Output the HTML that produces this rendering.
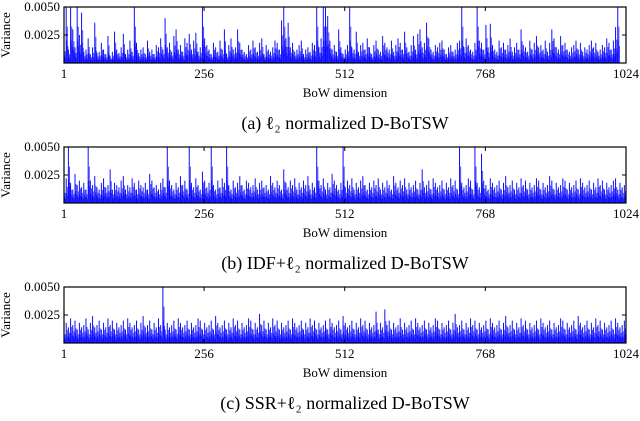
<!DOCTYPE html>
<html><head><meta charset="utf-8"><style>
body{margin:0;background:#fff;width:640px;height:416px;overflow:hidden}
svg text{font-family:"Liberation Serif",serif;fill:#000}
</style></head><body>
<svg id="fig" width="640" height="416" viewBox="0 0 640 416"></svg>
<script>
const xTicks=[1,256,512,768,1024];
const yTicks=[0.0025,0.0050];
const yTickLabels=["0.0025","0.0050"];
const captions=["(a) \u2113\u2082 normalized D-BoTSW","(b) IDF+\u2113\u2082 normalized D-BoTSW","(c) SSR+\u2113\u2082 normalized D-BoTSW"];
// values in units of 1e-4, one per 4 BoW dimensions
const seriesA=[16,50,12,50,30,14,50,25,45,10,12,22,8,14,36,9,10,18,12,8,24,6,10,28,12,9,14,26,8,12,20,10,50,18,9,12,14,8,20,10,12,8,16,14,22,12,40,14,18,10,24,30,12,16,10,22,18,26,12,20,27,10,14,50,22,16,12,8,18,14,10,20,12,30,8,16,22,12,14,30,18,12,10,8,16,12,20,14,10,18,22,8,16,12,10,14,20,18,12,38,50,22,36,14,18,10,12,16,20,8,12,14,10,18,16,50,14,22,50,50,42,20,12,16,10,30,14,8,12,16,50,14,12,28,10,16,18,12,22,14,8,16,20,12,10,24,18,14,12,20,10,16,22,18,12,28,14,10,16,24,12,26,30,14,18,36,22,12,10,16,14,18,20,12,8,14,16,10,12,18,20,50,14,22,16,12,10,18,50,20,18,12,34,14,35,16,12,10,20,14,18,12,16,22,10,14,18,12,30,16,14,10,20,12,18,24,14,16,12,20,10,18,30,22,14,12,24,16,18,12,10,14,16,20,12,18,10,14,12,16,20,14,18,10,12,16,14,22,18,12,20,32,50];
const seriesB=[14,22,50,18,12,26,16,20,14,18,12,50,20,16,24,14,12,18,22,14,16,30,12,18,16,14,20,24,12,16,14,22,18,12,20,16,14,18,12,26,20,14,16,12,18,22,14,50,20,16,12,18,14,24,16,20,12,50,18,14,22,16,12,28,20,14,18,50,16,12,20,14,22,18,50,16,12,20,14,18,24,16,12,20,18,14,16,22,12,18,20,14,16,12,24,18,14,20,16,12,30,18,14,20,16,22,12,18,14,20,16,24,12,18,14,50,20,16,22,12,18,14,26,20,16,12,18,50,14,20,16,22,12,18,14,20,24,16,12,18,14,20,16,22,12,18,14,20,16,12,24,18,14,20,16,22,12,18,14,16,20,12,18,30,14,16,20,12,22,18,14,16,20,12,18,14,22,16,20,12,50,18,14,16,22,20,12,50,18,14,44,20,16,12,22,18,14,16,20,12,18,24,14,16,20,12,18,14,22,16,20,12,18,14,16,22,20,12,18,14,16,24,20,12,18,14,16,22,20,12,18,14,16,20,12,22,18,14,16,20,12,18,14,22,16,20,12,18,14,16,20,22,12,18,14,16,20,12,30];
const seriesC=[12,18,14,22,16,20,12,18,14,16,22,12,18,24,14,16,20,12,18,14,22,16,20,12,18,14,16,20,12,22,18,14,16,20,12,18,24,14,16,20,12,18,14,22,16,50,12,18,14,16,20,12,22,18,14,16,20,12,18,14,16,22,20,12,18,14,16,20,12,24,18,14,16,20,12,18,14,22,16,20,12,18,14,16,22,20,12,18,14,26,16,20,12,18,14,22,16,20,12,18,14,16,20,12,22,18,14,16,20,12,18,14,22,16,20,12,18,14,16,20,12,22,18,14,16,20,12,24,18,14,16,20,12,18,14,22,16,20,12,18,14,16,28,12,18,14,30,16,20,12,18,14,16,22,12,18,14,16,20,12,22,18,14,16,20,12,18,14,16,22,20,12,18,14,16,20,12,18,26,14,16,20,12,18,14,22,16,20,12,18,14,16,20,12,22,18,14,16,20,12,18,24,14,16,20,12,18,14,22,16,20,12,18,14,16,20,12,22,18,14,16,20,12,18,14,16,22,20,12,18,14,16,20,12,24,18,14,16,20,12,18,14,22,16,20,12,18,14,16,20,12,22,18,14,16,20,12,18,14,16,22,20,12,30];
const series=[seriesA,seriesB,seriesC];
const NS="http://www.w3.org/2000/svg";
const svg=document.getElementById('fig');
const L=64,R=626,H=56,tops=[7,147,287];
function mk(t,a,p){const e=document.createElementNS(NS,t);for(const k in a)e.setAttribute(k,a[k]);(p||svg).appendChild(e);return e;}
function xs(d){return L+(d-1)/(1023)*(R-L);}
series.forEach((vals,pi)=>{
  const T=tops[pi],B=T+H;
  const ys=v=>B-Math.min(v,0.005)/0.005*H;
  const g=mk('g',{});
  
  
  const cp=mk('clipPath',{id:'c'+pi},g);mk('rect',{x:L,y:T,width:R-L,height:H},cp);
  const bars=mk('g',{'clip-path':'url(#c'+pi+')'},g);
  
  
  vals.forEach((v,i)=>{
    for(let k=0;k<4;k++){
      const d=i*4+k+1;
      const val=(k===0?v:Math.max(3,v*[1,0.4,0.65,0.3][k]))*1e-4;
      const ln=mk('line',{x1:xs(d),x2:xs(d),y1:B,y2:ys(val),stroke:'#0000ff','stroke-opacity':k===0?0.95:0.7,'stroke-width':1},bars);
      
      
    }
  });
  const fr=mk('rect',{x:L,y:T,width:R-L,height:H,fill:'none',stroke:'#000','stroke-width':1.2},g);
  
  
  xTicks.forEach(t=>{
    const x=xs(t);
    mk('line',{x1:x,x2:x,y1:B,y2:B-4,stroke:'#000'},g);mk('line',{x1:x,x2:x,y1:T,y2:T+4,stroke:'#000'},g);
    const tx=mk('text',{x:x,y:B+15,'font-size':13,'text-anchor':'middle'},g);tx.textContent=t;
    
    
  });
  yTicks.forEach((t,j)=>{
    const y=ys(t);
    mk('line',{x1:L,x2:L+4,y1:y,y2:y,stroke:'#000'},g);mk('line',{x1:R,x2:R-4,y1:y,y2:y,stroke:'#000'},g);
    const tx=mk('text',{x:L-4,y:y+4,'font-size':13,'text-anchor':'end'},g);tx.textContent=yTickLabels[j];
    
    
  });
  const yl=mk('text',{x:0,y:0,'font-size':13,'text-anchor':'middle',transform:`translate(10,${T+H/2}) rotate(-90)`},g);yl.textContent='Variance';
  
  
  const xl=mk('text',{x:(L+R)/2,y:B+34,'font-size':13,'text-anchor':'middle'},g);xl.textContent='BoW dimension';
  
  
  const c=mk('text',{x:(L+R)/2,y:B+66,'font-size':18,'text-anchor':'middle'},g);c.textContent=captions[pi];
  
  
});
</script>
</body></html>
